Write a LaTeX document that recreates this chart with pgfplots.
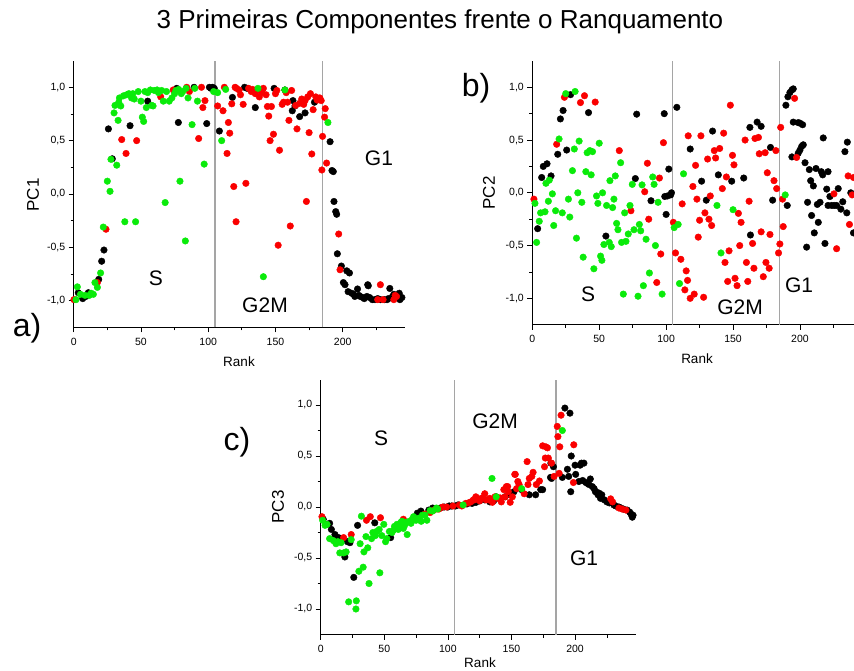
\documentclass[border=0pt]{standalone}
\usepackage{pgfplots}
\pgfplotsset{compat=1.18}
\usepackage{fontspec}
\setmainfont{Liberation Sans}
\definecolor{gr}{RGB}{10,235,10}
\definecolor{rd}{RGB}{250,0,0}
\definecolor{vl}{RGB}{165,165,165}
\pgfplotsset{
  pcstyle/.style={
    scale only axis,
    axis x line*=bottom, axis y line*=left,
    xmin=0, ymin=-1.25, ymax=1.25,
    xtick={0,50,100,150,200}, minor xtick={25,75,125,175,225},
    ytick={-1,-0.5,0,0.5,1}, minor ytick={-0.75,-0.25,0.25,0.75},
    tick align=outside, major tick length=5pt, minor tick length=3pt,
    tick style={black, line width=0.7pt},
    axis line style={black, line width=1.1pt},
    ticklabel style={font=\fontsize{10.5}{12}\selectfont},
    /pgf/number format/assume math mode=true,
    yticklabel style={/pgf/number format/.cd, fixed, fixed zerofill, precision=1, use comma},
    xticklabel style={yshift=-2pt, /pgf/number format/.cd, fixed, precision=0},
    clip=true,
  },
  bk/.style={only marks, mark=*, color=black, mark size=3.3pt, mark options={solid, line width=0.4pt}},
  rr/.style={only marks, mark=*, color=rd, mark size=3.3pt, mark options={solid, line width=0.4pt}},
  gg/.style={only marks, mark=*, color=gr, mark size=3.3pt, mark options={solid, line width=0.4pt}},
}
\begin{document}
\begin{tikzpicture}
\useasboundingbox (0,0) rectangle (854pt,-671pt);
\node[font=\fontsize{26}{30}\selectfont] at (440pt,-22pt) {3 Primeiras Componentes frente o Ranquamento};
% ---------------- a ----------------
\begin{axis}[pcstyle, at={(73.7pt,-327.4pt)}, anchor=south west, width=330.9pt, height=266.8pt, xmax=246]
\addplot[vl, line width=1.2pt] coordinates {(105,-1.25) (105,1.25)};
\addplot[vl, line width=1.2pt] coordinates {(185,-1.25) (185,1.25)};
\addplot[bk] coordinates {
(3.4,-0.925) (6.7,-0.98) (9,-0.96) (10.9,-0.925) (18.6,-0.8) (20.8,-0.63) (22.5,-0.525)
(25.8,0.61) (28.7,0.33) (41.9,0.64) (55,0.87) (76.6,0.99) (77.8,0.67) (89.5,1.0) (98.9,0.66)
(100.9,1.0) (102,0.99) (103.3,1.0) (104.5,0.99) (108.3,0.59) (118,0.905) (127,1.0) (129,0.99)
(135,0.81) (149,0.99) (157,0.975) (162.5,0.78) (163,0.875) (164.5,0.825) (168,0.725) (172,0.76)
(179,0.86) (190.6,0.49) (192,0.22) (193,0.21) (193.5,-0.07) (194.8,-0.165) (195.5,-0.19)
(196,-0.56) (199,-0.675) (200.5,-0.83) (201.7,-0.85) (203,-0.72) (204,-0.915) (205,-0.74)
(206.7,-0.93) (208,-0.94) (209,-0.96) (211,-0.89) (212,-0.95) (213,-0.96) (215,-0.97)
(216,-0.98) (218,-0.96) (218.6,-0.85) (219,-0.86) (220,-0.97) (222,-0.99) (224,-0.99)
(226,-0.98) (228,-0.99) (231,-0.99) (233,-0.99) (234,-0.98) (235,-0.885) (237,-0.96)
(238,-0.94) (240,-0.95) (242,-0.93) (242.5,-0.99) (244,-0.97)
};
\addplot[rr] coordinates {
(0.2,-0.99) (17.6,-0.83) (24,-0.33) (35.7,0.51) (38.9,0.38) (46.8,0.5) (64.7,0.91) (74,0.975)
(84,1.0) (86,0.96) (92.9,0.52) (95,1.0) (96,0.81) (97.6,0.875) (107,0.825) (111,0.78) (112,1.0)
(114,0.38) (115,0.67) (116,0.57) (117.5,0.845) (119,0.07) (120,1.0) (120.7,-0.26) (121,0.99)
(123,0.975) (124,0.93) (126,0.84) (128,0.10) (130,0.99) (132,0.96) (133,0.98) (135,0.94)
(136,0.97) (138,0.91) (140,0.95) (141,0.99) (143,0.93) (144,0.82) (145,0.73) (146,0.50)
(147,0.82) (148.5,0.56) (150,0.94) (151,0.97) (152,-0.48) (153,0.41) (155,0.84) (156,0.86)
(158,0.95) (159,0.86) (160,0.69) (161,-0.30) (162,0.97) (165,0.83) (166,0.61) (168,0.85)
(169.5,0.89) (171,0.84) (172,0.875) (173,-0.07) (174,0.91) (175,0.575) (176,0.94) (177,0.375)
(178,0.79) (180,0.91) (181,0.88) (183,0.90) (184,0.875) (184.5,0.225) (185,0.54) (186.5,0.72)
(187,0.80) (188,0.29) (197,-0.375) (198,-0.71) (226,-0.99) (228,-0.85) (230,-0.99) (238,-0.99)
(239,-0.95) (240,-0.96)
};
\addplot[gg] coordinates {
(1.7,-0.99) (2.7,-0.87) (5,-0.94) (8.4,-0.95) (11.6,-0.95) (13,-0.93) (14.6,-0.94) (15.8,-0.83)
(17.6,-0.875) (20,-0.74) (22,-0.31) (25,0.12) (27,0.025) (27.7,0.325) (30,0.76) (30.7,0.83)
(32,0.27) (33,0.69) (33.5,0.86) (34,0.9) (35,0.825) (37,0.92) (38,-0.26) (39.4,0.93) (41,0.94)
(43,0.9) (44,0.94) (45,0.89) (46,-0.26) (48,0.96) (50,0.87) (51,0.72) (52,0.68) (53,0.96)
(54,0.81) (55,0.95) (57,0.975) (58,0.83) (59,0.825) (60,0.97) (62,0.975) (63,0.95) (65.4,0.97)
(66.6,0.87) (68,-0.08) (69,0.96) (71,0.87) (73,0.9) (75,0.94) (76,0.97) (78,0.98) (79,0.12)
(80,0.94) (81,0.96) (83,-0.44) (83.5,0.99) (85,0.9) (88,0.65) (90,0.99) (92,0.87) (97,0.28)
(104,0.96) (107,0.95) (110,0.5) (113,0.98) (137,0.99) (141,-0.775) (157,0.975) (189,0.67)
};
\end{axis}
% ---------------- b ----------------
\begin{axis}[pcstyle, at={(532.3pt,-324.7pt)}, anchor=south west, width=329.2pt, height=263.8pt, xmax=246]
\addplot[vl, line width=1.2pt] coordinates {(105,-1.25) (105,1.25)};
\addplot[vl, line width=1.2pt] coordinates {(185,-1.25) (185,1.25)};
\addplot[bk] coordinates {
(4,-0.34) (7,0.145) (8.2,0.25) (11,0.275) (14,0.16) (19,0.365) (21,0.70) (23,0.78) (25.7,0.405)
(28.6,0.93) (42,0.76) (55,-0.41) (77,0.135) (78,0.745) (88.7,-0.075) (98.6,0.75) (99,-0.035)
(100,-0.205) (101,-0.03) (102,0.225) (103.4,-0.02) (104,0.0) (108,0.81) (118,0.415) (126.5,0.11)
(130,-0.07) (134.7,0.585) (139,0.17) (149,0.11) (158,0.14) (163,-0.40) (162.6,0.62) (168,0.67)
(171,0.63) (178,0.43) (179.6,-0.07) (189.5,0.83) (190.5,-0.12) (191,0.91) (192.5,0.95)
(194,0.975) (195,0.985) (194,0.34) (195,0.67) (198.7,0.665) (200,0.66) (202,0.645) (198.7,0.375)
(200,0.405) (201.3,0.44) (202.5,0.455) (203.8,0.285) (205,-0.515) (205.7,-0.09) (207,0.22)
(208,0.115) (208.7,-0.215) (210,0.065) (210.7,-0.38) (212,0.23) (213,-0.11) (213.7,-0.28)
(215,-0.09) (216,0.2) (217,0.17) (217.4,0.52) (218.7,-0.48) (220,0.035) (221,-0.12) (221,0.2)
(222.4,-0.035) (223.7,-0.12) (225.6,-0.12) (227.4,-0.12) (228.6,0.04) (230.6,-0.155) (232,-0.085)
(233.6,0.39) (235,-0.19) (235.4,0.48) (238,0.0) (240,-0.38)
};
\addplot[rr] coordinates {
(1.2,-0.06) (18.2,0.46) (24,0.905) (36,0.855) (39,0.92) (47,0.86) (65,0.40) (73.7,-0.17) (84,0.01)
(86,0.28) (87,-0.25) (93,-0.85) (95,0.14) (96,-0.58) (98,0.475) (105.4,-0.28) (107,-0.57)
(111,-0.63) (112,-0.105) (115,-0.74) (116,-0.83) (114,-0.92) (116.5,0.54) (118,-1.0) (120,0.06)
(121,-0.96) (122,0.26) (123,-0.06) (124,-0.42) (125,-0.26) (126,0.54) (128,-0.99) (129,-0.19)
(131,0.32) (132,-0.25) (133,-0.03) (134,-0.31) (136,0.40) (137,0.33) (140,0.42) (142,0.04)
(143,0.565) (144,-0.66) (145,0.15) (146,-0.84) (147,-0.55) (148,0.83) (149.6,0.355) (150.7,0.265)
(151.5,-0.81) (153,-0.88) (154,-0.195) (155,-0.50) (156,-0.28) (159,0.50) (160,-0.66) (161,-0.84)
(162,-0.08) (164.6,-0.48) (165.6,-0.715) (166.4,0.515) (169,0.525) (169.6,0.37) (171,-0.37)
(172.6,-0.795) (174,0.38) (174.6,-0.66) (175.6,0.19) (177,-0.715) (177.6,-0.395) (180.6,0.115)
(182,0.40) (182.6,0.04) (184,-0.57) (185,-0.485) (185.6,0.62) (187,-0.06) (187.5,-0.32)
(196,0.895) (197.5,0.335) (225.4,-0.01) (227.4,-0.53) (236,0.16) (237,-0.30) (239,-0.02) (240,0.145)
};
\addplot[gg] coordinates {
(2,-0.10) (3.2,-0.47) (5.2,-0.27) (6.2,-0.19) (9.5,-0.18) (10.2,0.09) (12.7,0.12) (12,-0.08)
(15,-0.01) (16,-0.31) (17.4,-0.17) (20,0.51) (22.4,-0.19) (25,0.94) (28,-0.23) (27,-0.06)
(30,0.21) (31.4,0.415) (32,0.96) (33,-0.43) (34,0.0) (35,0.49) (37,-0.09) (38,-0.61) (40,0.2)
(41,0.38) (43,0.40) (44,0.17) (45,0.39) (46,-0.72) (48,-0.03) (49,-0.10) (50,0.47) (51,-0.60)
(52,-0.64) (52.5,0.0) (53.5,-0.49) (55.5,-0.12) (57.5,-0.47) (58,0.115) (59,-0.51) (60,-0.14)
(61,-0.06) (62,0.16) (63,-0.29) (64,-0.35) (66,0.285) (66.7,-0.47) (68,-0.96) (69,-0.19)
(70,-0.46) (71.7,-0.39) (73,-0.12) (74.7,0.08) (76,-0.35) (79,-0.98) (80,-0.30) (81,-0.36)
(82,0.075) (83,-0.88) (85,-0.44) (87.5,-0.76) (90,0.15) (91,0.08) (92,-0.50) (94,-0.09)
(97,-0.96) (106,-0.33) (109,-0.30) (110,-0.86) (113,0.18) (138,-0.12) (141,-0.57) (150,-0.16)
(189,-0.02)
};
\end{axis}
% ---------------- c ----------------
\begin{axis}[pcstyle, at={(320.7pt,-634.5pt)}, anchor=south west, width=315.4pt, height=255pt, xmax=248]
\addplot[vl, line width=1.2pt] coordinates {(105,-1.25) (105,1.25)};
\addplot[vl, line width=1.2pt] coordinates {(185,-1.25) (185,1.25)};
\addplot[bk] coordinates {
(2,-0.12) (5,-0.17) (7,-0.16) (8.4,-0.22) (11.2,-0.27) (14,-0.30) (19,-0.49) (21,-0.34) (23,-0.35)
(26,-0.69) (29,-0.18) (42.5,-0.155) (55,-0.30) (76,-0.06) (78.8,-0.04) (85,-0.03) (88,-0.01)
(89.5,-0.02) (94,-0.01) (97,0.0) (100,0.0) (101,0.01) (103,0.01) (106,0.01) (108,0.02) (115,0.03)
(119,0.035) (122,0.045) (125,0.06) (129,0.07) (133,0.05) (136,0.06) (138,0.1) (145,0.10)
(149,0.12) (152,0.15) (158,0.17) (164,0.12) (169,0.12) (173,0.17) (174.5,0.17) (180.7,0.29)
(181.5,0.28) (181,0.43) (183,0.395) (190,0.29) (192,0.97) (194,0.37) (195,0.30) (196,0.92)
(196.6,0.15) (197,0.50) (200,0.41) (200.5,0.32) (203,0.25) (204,0.41) (205,0.43) (206,0.26)
(207,0.43) (208.4,0.24) (210,0.23) (211,0.22) (212,0.275) (213.6,0.20) (215,0.18) (216,0.15)
(217,0.145) (218,0.12) (219,0.135) (220,0.085) (221,0.12) (223,0.07) (225,0.05) (227,0.04)
(230.5,0.02) (232,0.01) (234.5,0.0) (236,-0.01) (238,-0.02) (241,-0.03) (243,-0.05) (244,-0.07)
(245.6,-0.08) (245,-0.1)
};
\addplot[rr] coordinates {
(1,-0.095) (18,-0.30) (24,-0.27) (36,-0.13) (39,-0.095) (47,-0.105) (65,-0.12) (82,-0.07)
(86,-0.055) (89,-0.03) (93,-0.02) (96,0.0) (99,0.0) (104,0.01) (109,0.02) (111,0.01) (114,0.035)
(116,0.04) (118,0.05) (120,0.07) (121,0.07) (122,0.10) (124,0.08) (125,0.06) (127,0.09)
(129,0.13) (130,0.07) (132,0.07) (133,0.085) (135,0.046) (137,0.1) (139,0.085) (141,0.09)
(142,0.05) (144,0.17) (145,0.10) (146,0.2) (147,0.20) (147.5,0.15) (149,0.046) (150.7,0.10)
(152.6,0.32) (153,0.32) (154,0.18) (155,0.25) (156,0.22) (160,0.13) (162.3,0.445) (163,0.22)
(164,0.28) (166,0.30) (167,0.34) (169.5,0.22) (172,0.255) (174.5,0.60) (176,0.395) (176.6,0.48)
(177,0.59) (178.3,0.58) (179,0.48) (181.5,0.43) (183.5,0.30) (186,0.79) (186.5,0.69) (187.5,0.33)
(188,0.59) (189,0.90) (198.7,0.24) (199,0.61) (228,0.08) (229.5,0.05) (234.5,-0.01) (237,-0.02)
(240,-0.03)
};
\addplot[gg] coordinates {
(1.5,-0.13) (3.4,-0.18) (5,-0.17) (7,-0.31) (10,-0.33) (12,-0.36) (13.5,-0.34) (15,-0.45)
(16,-0.35) (18,-0.45) (20,-0.44) (22,-0.93) (24,-0.32) (27.7,-1.0) (28,-0.92) (30,-0.63)
(31,-0.36) (32,-0.09) (33.4,-0.59) (34,-0.44) (35.6,-0.29) (37,-0.40) (38,-0.75) (40,-0.31)
(41,-0.25) (43,-0.28) (44,-0.24) (46,-0.22) (46.5,-0.645) (48,-0.28) (49.6,-0.17) (51,-0.34)
(52,-0.31) (54,-0.24) (56,-0.25) (57,-0.23) (58,-0.19) (60,-0.17) (61,-0.22) (62,-0.2)
(63,-0.15) (64,-0.14) (65,-0.21) (66,-0.18) (67,-0.15) (68,-0.27) (69.6,-0.14) (71,-0.16)
(72,-0.12) (73,-0.095) (75,-0.13) (77,-0.11) (79,-0.14) (80,-0.08) (82,-0.08) (83.5,-0.13)
(86,-0.035) (88,-0.04) (91,-0.01) (92,-0.02) (112,0.02) (134.7,0.28) (138,0.10) (158,0.18)
(190,0.75)
};
\end{axis}
% labels
\node[font=\fontsize{32}{36}\selectfont] at (27pt,-328pt) {a)};
\node[font=\fontsize{32}{36}\selectfont] at (476pt,-88pt) {b)};
\node[font=\fontsize{32}{36}\selectfont] at (237pt,-442pt) {c)};
\node[font=\fontsize{17}{20}\selectfont, rotate=90] at (33pt,-195pt) {PC1};
\node[font=\fontsize{17}{20}\selectfont, rotate=90] at (489pt,-193pt) {PC2};
\node[font=\fontsize{17}{20}\selectfont, rotate=90] at (278pt,-507pt) {PC3};
\node[font=\fontsize{13.5}{16}\selectfont] at (239pt,-362pt) {Rank};
\node[font=\fontsize{13.5}{16}\selectfont] at (697pt,-359pt) {Rank};
\node[font=\fontsize{13.5}{16}\selectfont] at (480pt,-663pt) {Rank};
\node[font=\fontsize{21}{24}\selectfont] at (156pt,-278pt) {S};
\node[font=\fontsize{21}{24}\selectfont] at (265pt,-305pt) {G2M};
\node[font=\fontsize{21}{24}\selectfont] at (379pt,-158pt) {G1};
\node[font=\fontsize{21}{24}\selectfont] at (588pt,-294pt) {S};
\node[font=\fontsize{21}{24}\selectfont] at (740pt,-307pt) {G2M};
\node[font=\fontsize{21}{24}\selectfont] at (799pt,-285pt) {G1};
\node[font=\fontsize{21}{24}\selectfont] at (381pt,-438pt) {S};
\node[font=\fontsize{21}{24}\selectfont] at (495pt,-421pt) {G2M};
\node[font=\fontsize{21}{24}\selectfont] at (584pt,-558pt) {G1};
\end{tikzpicture}
\end{document}
